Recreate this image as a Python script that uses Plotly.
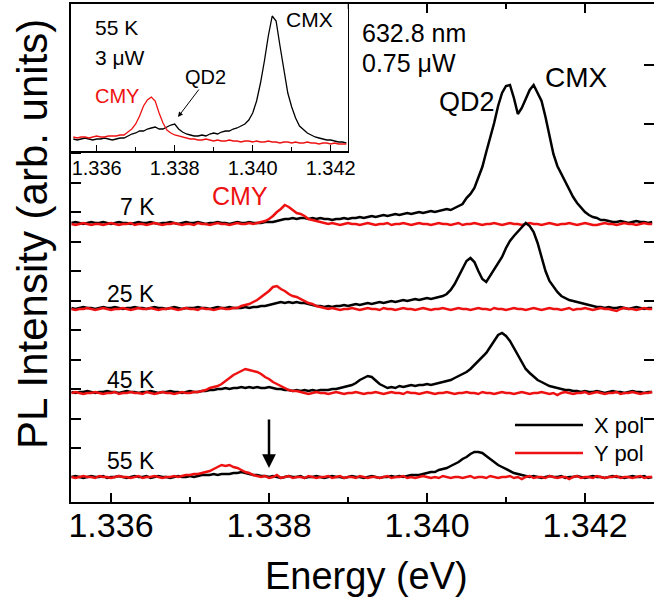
import plotly.graph_objects as go

FONT = "Liberation Sans, Arial, sans-serif"

# ---------------- data ----------------
# main panel: energy grid (eV)
E_START, E_STEP, N_PTS = 1.3355, 0.00005, 148
energy = [round(E_START + E_STEP * j, 5) for j in range(N_PTS)]

temperatures = ["7 K", "25 K", "45 K", "55 K"]
offsets = [278, 193, 109, 25]  # vertical offsets of the stacked spectra (arb. units)

# X polarisation (black), intensity above offset (arb. units)
x_pol = {
    "7 K": [
        1, 2, 1, 0, 1, 2, 1, 1, 2, 1,
        0, 1, 2, 1, 1, 0, 1, 2, 1, 1,
        2, 1, 0, 1, 1, 2, 1, 0, 1, 2,
        1, 1, 2, 1, 0, 1, 1, 2, 1, 1,
        0, 1, 2, 1, 1, 2, 1, 1, 1, 2,
        2, 2, 3, 4, 5, 5, 6, 5, 6, 6,
        5, 6, 5, 6, 5, 5, 4, 5, 5, 6,
        5, 6, 6, 7, 6, 7, 8, 7, 8, 9,
        8, 9, 10, 9, 10, 11, 10, 11, 12, 11,
        12, 13, 12, 13, 14, 15, 14, 16, 18, 20,
        26, 30, 36, 46, 57, 72, 86, 101, 118, 131,
        138, 139, 126, 110, 116, 126, 134, 139, 131, 123,
        107, 88, 70, 58, 50, 42, 34, 27, 21, 16,
        12, 9, 7, 6, 4, 4, 3, 2, 2, 3,
        2, 1, 2, 3, 2, 2, 1, 2],
    "25 K": [
        1, 0, 1, 2, 1, 1, 0, 1, 2, 1,
        1, 2, 1, 0, 1, 1, 2, 1, 1, 0,
        1, 2, 1, 1, 0, 1, 2, 1, 0, 1,
        1, 1, 2, 1, 1, 0, 1, 2, 1, 1,
        2, 1, 1, 1, 2, 1, 2, 2, 3, 3,
        4, 5, 6, 7, 6, 7, 6, 7, 6, 6,
        5, 4, 3, 3, 2, 3, 2, 3, 3, 4,
        3, 4, 5, 4, 5, 6, 5, 6, 7, 6,
        7, 8, 7, 8, 9, 8, 9, 10, 9, 10,
        11, 10, 11, 12, 13, 15, 19, 25, 33, 41,
        48, 51, 47, 38, 30, 27, 33, 40, 46, 52,
        61, 68, 73, 77, 82, 86, 83, 77, 66, 52,
        38, 28, 22, 17, 13, 11, 9, 8, 7, 6,
        5, 4, 3, 2, 2, 1, 2, 1, 1, 2,
        1, 0, 1, 2, 1, 0, 1, 1],
    "45 K": [
        1, 0, 1, 1, 2, 1, 0, 1, 1, 2,
        1, 1, 0, 1, 2, 1, 1, 0, 1, 1,
        2, 1, 0, 1, 1, 2, 1, 1, 0, 1,
        2, 1, 1, 2, 2, 3, 3, 4, 4, 5,
        4, 5, 5, 6, 5, 6, 5, 6, 5, 5,
        6, 5, 4, 4, 3, 3, 2, 3, 2, 3,
        2, 3, 2, 3, 3, 3, 4, 4, 5, 6,
        7, 8, 10, 13, 15, 17, 16, 12, 9, 7,
        5, 6, 5, 7, 6, 7, 8, 7, 8, 8,
        9, 8, 9, 10, 11, 12, 13, 15, 17, 19,
        21, 24, 28, 31, 35, 40, 46, 52, 58, 60,
        57, 52, 45, 37, 30, 24, 20, 16, 13, 11,
        9, 7, 6, 5, 4, 3, 3, 2, 2, 1,
        2, 1, 1, 2, 1, 0, 1, 2, 1, 1,
        0, 1, 2, 1, 1, 0, 1, 1],
    "55 K": [
        0, 1, 0, -1, 0, 1, 0, 0, 1, -1,
        0, 0, 1, 0, -1, 0, 1, 0, 0, 1,
        -1, 0, 1, 0, 0, -1, 0, 1, 0, 0,
        1, 0, 1, 2, 2, 2, 3, 2, 3, 3,
        3, 4, 4, 5, 4, 3, 2, 2, 1, 1,
        0, 1, 0, -1, 0, 1, 0, 0, 1, -1,
        0, 0, 1, 0, -1, 0, 1, 0, 0, -1,
        0, 1, 0, 0, -1, 0, 1, 0, -1, 0,
        0, 1, 0, 1, 0, 1, 2, 2, 2, 3,
        4, 5, 5, 7, 8, 9, 11, 13, 15, 18,
        20, 23, 25, 25, 24, 21, 18, 15, 12, 10,
        8, 6, 4, 3, 2, 1, 0, 1, 0, -1,
        0, 1, 0, 0, 1, -1, 0, 0, 1, 0,
        -1, 0, 1, 0, 0, -1, 0, 1, 0, 0,
        -1, 0, 1, 0, 0, 1, -1, 0],
}

# Y polarisation (red)
y_pol = {
    "7 K": [
        0, -1, 0, 1, 0, -1, 0, 0, -1, 0,
        1, 0, -1, 0, 0, 1, -1, 0, 0, -1,
        0, 1, 0, -1, 0, 0, 1, 0, -1, 0,
        0, -1, 1, 0, 0, -1, 0, 1, 0, 0,
        -1, 0, 1, 0, 0, 1, 0, 1, 2, 3,
        5, 8, 12, 15, 19, 17, 14, 11, 10, 8,
        5, 4, 3, 2, 1, 0, 1, 0, -1, 0,
        1, 0, 0, -1, 0, 1, 0, -1, 0, 0,
        1, -1, 0, 0, 1, 0, -1, 0, 1, 0,
        0, -1, 0, 1, 0, 0, -1, 0, 1, -1,
        0, 0, 1, 0, -1, 0, 0, 1, 0, -1,
        0, 1, 0, 0, -1, 0, 1, 0, 0, -1,
        0, 1, 0, -1, 0, 0, 1, 0, -1, 0,
        1, 0, -1, -1, 0, 1, 0, 0, -1, 0,
        1, 0, 0, -1, 0, 1, 0, 0],
    "25 K": [
        0, -1, 0, 0, 1, 0, -1, 0, 1, 0,
        -1, 0, 0, 1, 0, -1, 0, 1, 0, 0,
        1, 0, -1, 0, 0, 1, 0, -1, 0, 1,
        0, 0, -1, 1, 0, 0, -1, 0, 1, 0,
        0, 1, 1, 3, 4, 5, 7, 9, 12, 15,
        18, 22, 23, 20, 18, 15, 13, 12, 10, 8,
        6, 5, 3, 2, 1, 0, 1, 0, -1, 0,
        0, 1, 0, -1, 0, 1, 0, 0, -1, 1,
        0, 0, -1, 0, 1, 0, 0, -1, 0, 1,
        0, -1, 0, 0, 1, 0, -1, 0, 1, 0,
        0, -1, 0, 1, 0, 0, -1, 1, 0, 0,
        -1, 0, 1, 0, 0, -1, 0, 1, 0, -1,
        0, 1, 0, 0, -1, 0, 1, -1, 0, 0,
        1, 0, -1, 0, 1, 0, 0, -1, -2, 0,
        1, 0, 0, -1, 0, 1, 0, 0],
    "45 K": [
        0, 1, 0, -1, 0, 0, 1, 0, -1, 0,
        0, 1, -1, 0, 0, 1, 0, 0, -1, 1,
        0, -1, 0, 1, 0, 0, -1, 0, 1, 0,
        0, 1, 1, 2, 3, 5, 6, 7, 9, 12,
        15, 18, 20, 22, 24, 23, 22, 21, 19, 16,
        14, 11, 9, 7, 5, 3, 2, 2, 1, 0,
        -1, 0, 1, 0, 0, -1, 0, 1, 0, -1,
        0, 0, 1, 0, -1, 0, 0, 1, 0, -1,
        0, 1, 0, 0, -1, 1, 0, 0, -1, 0,
        1, 0, -1, 0, 0, 1, 0, -1, 0, 0,
        1, 0, 0, -1, 1, 0, 0, -1, 0, 1,
        0, 0, -1, 0, 1, 0, -1, 0, 0, 1,
        0, -1, 0, -2, 0, 1, 0, -1, 0, 0,
        1, -1, 0, 1, 0, -1, 0, 0, 1, -1,
        0, 0, 1, 0, -1, 0, 0, 1],
    "55 K": [
        0, -1, 0, 1, 0, 0, -1, 1, 0, 0,
        -1, 0, 1, 0, 0, -1, 0, 1, -1, 0,
        0, 1, 0, -1, 0, 0, 1, 0, 1, 2,
        2, 3, 3, 4, 5, 6, 8, 10, 12, 11,
        12, 10, 9, 7, 5, 4, 2, 1, 0, 1,
        -1, 0, 2, -1, 0, 1, -1, 0, 0, -1,
        1, 0, -1, 0, 0, 1, -1, 0, 1, -1,
        0, 0, -1, 1, 0, -1, 0, 0, -1, 0,
        1, -1, 0, 0, 1, -1, 0, -1, 0, 1,
        0, -1, 0, -1, 1, 0, -1, 0, 0, -1,
        0, 1, -1, 0, 0, -1, 1, 0, -1, 0,
        0, 1, -1, 0, -2, 0, 1, -1, 0, 0,
        -1, 1, 0, -1, 0, 0, -2, 0, 1, -1,
        0, 0, -1, 1, 0, -1, 0, 0, 1, -1,
        0, 0, -1, 0, 1, -1, 0, 0],
}

# inset (55 K, 3 uW)
INSET_E_START, INSET_E_STEP, INSET_N = 1.3354, 0.0001, 71
inset_energy = [round(INSET_E_START + INSET_E_STEP * i, 4) for i in range(INSET_N)]
inset_x_pol = [
    12, 11, 12, 13, 12, 11, 12, 12, 13, 12,
    11, 12, 13, 13, 15, 17, 18, 20, 20, 22,
    23, 24, 22, 22, 24, 26, 27, 22, 19, 17,
    16, 15, 15, 16, 15, 17, 18, 17, 19, 20,
    20, 22, 23, 25, 27, 31, 38, 50, 68, 90,
    115, 135, 130, 105, 80, 58, 44, 33, 25, 21,
    18, 16, 14, 13, 12, 11, 11, 10, 9, 9,
    8]
inset_y_pol = [
    14, 13, 14, 14, 13, 14, 15, 14, 14, 15,
    15, 15, 16, 16, 19, 22, 27, 35, 45, 51,
    54, 50, 38, 28, 21, 18, 16, 15, 14, 13,
    12, 12, 11, 11, 12, 11, 10, 11, 10, 10,
    11, 10, 10, 9, 10, 10, 9, 10, 9, 9,
    10, 9, 9, 8, 9, 9, 8, 9, 8, 8,
    9, 8, 8, 7, 8, 8, 7, 8, 7, 7,
    7]

# ---------------- layout geometry ----------------
W, H = 654, 600
ML, MR, MT, MB = 71, 0, 4, 98
PW, PH = W - ML - MR, H - MT - MB


def px(x):
    return (x - ML) / PW


def py(y):
    return (H - MB - y) / PH


BLACK = "#000000"
RED = "#ee1111"

fig = go.Figure()
for t, off in zip(temperatures, offsets):
    fig.add_trace(go.Scatter(x=energy, y=[off + v for v in x_pol[t]], mode="lines",
                             line=dict(color=BLACK, width=2.5), xaxis="x", yaxis="y",
                             showlegend=False, hoverinfo="skip"))
    fig.add_trace(go.Scatter(x=energy, y=[off + v for v in y_pol[t]], mode="lines",
                             line=dict(color=RED, width=2.5), xaxis="x", yaxis="y",
                             showlegend=False, hoverinfo="skip"))

fig.add_trace(go.Scatter(x=inset_energy, y=inset_x_pol, mode="lines",
                         line=dict(color=BLACK, width=1.3), xaxis="x2", yaxis="y2",
                         showlegend=False, hoverinfo="skip"))
fig.add_trace(go.Scatter(x=inset_energy, y=inset_y_pol, mode="lines",
                         line=dict(color=RED, width=1.3), xaxis="x2", yaxis="y2",
                         showlegend=False, hoverinfo="skip"))
# dummy trace to activate right-hand tick axis
fig.add_trace(go.Scatter(x=[energy[0]], y=[-100], mode="markers", marker=dict(opacity=0),
                         xaxis="x", yaxis="y3", showlegend=False, hoverinfo="skip"))

left_ticks = [54 + 29.5 * n for n in range(15)]
right_ticks = [83.5 + 59 * n for n in range(7)]

fig.update_layout(
    template="none",
    width=W, height=H,
    margin=dict(l=ML, r=MR, t=MT, b=MB, pad=0, autoexpand=False),
    paper_bgcolor="white", plot_bgcolor="white",
    showlegend=False,
    font=dict(family=FONT, color="black"),
    xaxis=dict(domain=[0, 1], anchor="y", automargin=False,
               range=[1.336 - 40 / 79000, 1.336 + 543 / 79000],
               showline=True, linecolor="black", linewidth=2, mirror="ticks",
               ticks="inside", ticklen=9, tickwidth=2, tickcolor="black",
               tick0=1.336, dtick=0.002, tickformat=".3f",
               tickfont=dict(size=34, family=FONT, color="black"),
               ticklabelstandoff=-8,
               minor=dict(ticks="inside", ticklen=5, tickwidth=2, tickcolor="black",
                          tick0=1.336, dtick=0.001, showgrid=False),
               showgrid=False, zeroline=False),
    yaxis=dict(domain=[0, 1], anchor="x", range=[0, PH], automargin=False,
               showline=True, linecolor="black", linewidth=2,
               ticks="inside", tickvals=left_ticks, ticklen=10, tickwidth=2, tickcolor="black",
               showticklabels=False, showgrid=False, zeroline=False),
    yaxis3=dict(overlaying="y", side="right", anchor="x", range=[0, PH], automargin=False,
                ticks="inside", tickvals=right_ticks, ticklen=10, tickwidth=2, tickcolor="black",
                showticklabels=False, showline=False, showgrid=False, zeroline=False),
    xaxis2=dict(domain=[0, px(347.7)], anchor="y2", automargin=False,
                range=[1.336 - 25.7 / 39000, 1.336 + 251 / 39000],
                showline=True, linecolor="black", linewidth=1.5, mirror=True,
                ticks="inside", ticklen=6, tickwidth=1.2, tickcolor="black",
                tick0=1.336, dtick=0.002, tickformat=".3f",
                tickfont=dict(size=20, family=FONT, color="black"),
                ticklabelstandoff=-2,
                minor=dict(ticks="inside", ticklen=4, tickwidth=1.2, tickcolor="black",
                           tick0=1.336, dtick=0.001, showgrid=False),
                showgrid=False, zeroline=False),
    yaxis2=dict(domain=[py(151), 1], anchor="x2", range=[0, 147], automargin=False,
                showline=True, linecolor="black", linewidth=1.5, mirror=True,
                ticks="", showticklabels=False, showgrid=False, zeroline=False),
)


def ann(text, x, y, size, xanchor="center", color="black", **kw):
    return dict(text=text, x=px(x), y=py(y), xref="paper", yref="paper",
                showarrow=False, xanchor=xanchor, yanchor="middle",
                font=dict(family=FONT, size=size, color=color), **kw)


annotations = [
    ann("Energy (eV)", 366, 576, 38),
    ann("PL Intensity (arb. units)", 33, 234, 42, textangle=-90),
    ann("7 K", 157, 207, 23, xanchor="right"),
    ann("25 K", 157, 294.5, 23, xanchor="right"),
    ann("45 K", 157, 379.5, 23, xanchor="right"),
    ann("55 K", 157, 460.5, 23, xanchor="right"),
    ann("CMY", 240, 196, 25, color=RED),
    ann("QD2", 467, 102, 27),
    ann("CMX", 576, 77, 28),
    ann("632.8 nm", 360, 33, 25, xanchor="left"),
    ann("0.75 \u03bcW", 360, 63, 25, xanchor="left"),
    ann("X pol", 592, 425, 22, xanchor="left"),
    ann("Y pol", 592, 453, 22, xanchor="left"),
    # inset labels
    ann("55 K", 93, 27.5, 21, xanchor="left"),
    ann("3 \u03bcW", 93, 57.5, 21, xanchor="left"),
    ann("CMY", 93, 96, 20, xanchor="left", color=RED),
    ann("QD2", 205, 77, 20),
    ann("CMX", 309, 19, 21),
    # arrows
    dict(x=1.338, y=PH - (468 - MT), xref="x", yref="y", text="", showarrow=True,
         ax=0, ay=-50, arrowhead=2, arrowsize=1.1, arrowwidth=2.5, arrowcolor="black"),
    dict(x=px(178), y=py(117), xref="paper", yref="paper", text="", showarrow=True,
         ax=22, ay=-29, arrowhead=2, arrowsize=1, arrowwidth=1, arrowcolor="black"),
]

shapes = [
    dict(type="line", xref="paper", yref="paper", x0=px(515), x1=px(583),
         y0=py(425), y1=py(425), line=dict(color=BLACK, width=2.5)),
    dict(type="line", xref="paper", yref="paper", x0=px(515), x1=px(583),
         y0=py(453), y1=py(453), line=dict(color=RED, width=2.5)),
]

fig.update_layout(annotations=annotations, shapes=shapes)
fig.write_html("out.html", config={"displayModeBar": False, "staticPlot": True},
               post_script="document.body.style.margin='0px';document.body.style.overflow='hidden';")
